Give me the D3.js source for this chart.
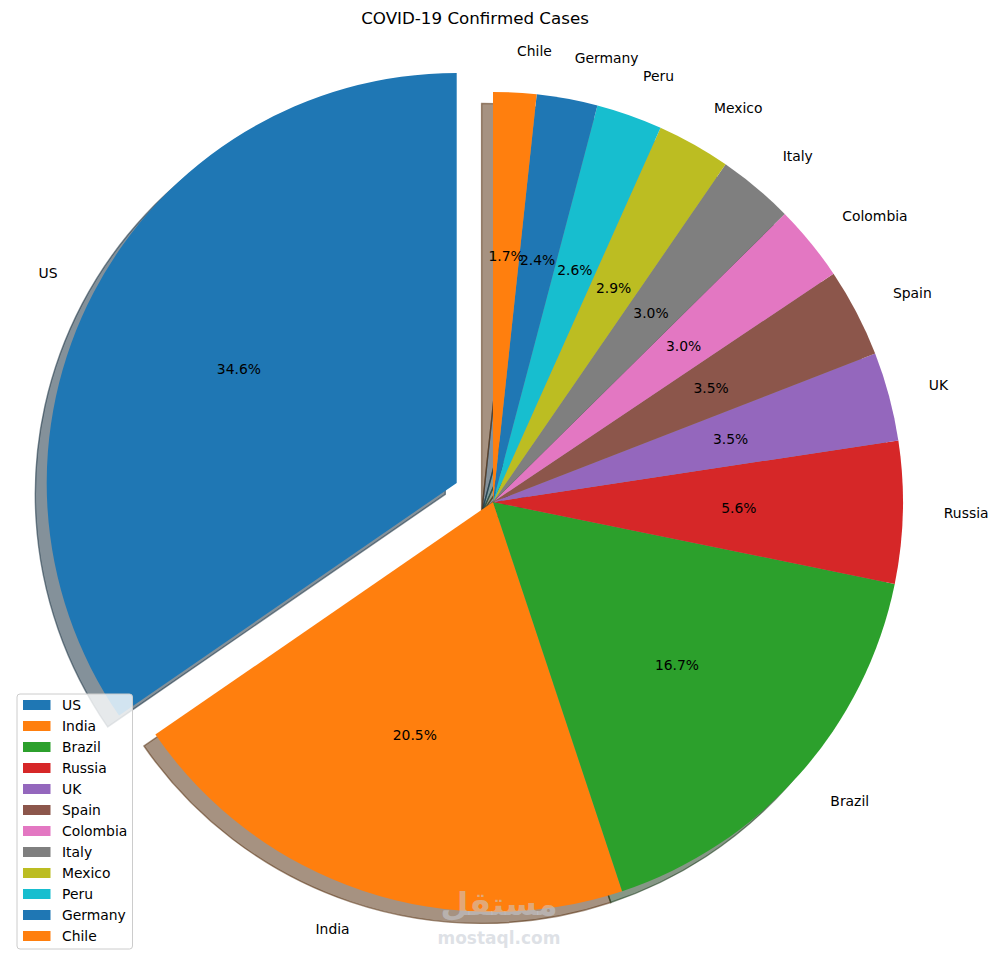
<!DOCTYPE html>
<html>
<head>
<meta charset="utf-8">
<script src="https://cdn.jsdelivr.net/npm/d3@7"></script>
<style>
  html, body { margin: 0; padding: 0; background: #ffffff; }
  svg { display: block; }
  text { font-family: "DejaVu Sans", sans-serif; }
</style>
</head>
<body>
<svg id="chart" width="999" height="966"></svg>
<script>
// ---- data ----
const countries = ["US", "India", "Brazil", "Russia", "UK", "Spain", "Colombia", "Italy", "Mexico", "Peru", "Germany", "Chile"];
const shares = [34.6, 20.5, 16.7, 5.6, 3.5, 3.5, 3.0, 3.0, 2.9, 2.6, 2.4, 1.7];
const explode = [0.1, 0, 0, 0, 0, 0, 0, 0, 0, 0, 0, 0];
const palette = ["#1f77b4", "#ff7f0e", "#2ca02c", "#d62728", "#9467bd", "#8c564b", "#e377c2", "#7f7f7f", "#bcbd22", "#17becf"];
const titleText = "COVID-19 Confirmed Cases";

const svg = d3.select("#chart");
const cx = 493, cy = 502, R = 410;
const shadowOff = 11.4;

const data = countries.map((c, i) => ({ name: c, value: shares[i], explode: explode[i], color: palette[i % palette.length] }));

const pie = d3.pie().value(d => d.value).sort(null).startAngle(0).endAngle(-2 * Math.PI);
const arcs = pie(data);
const arc = d3.arc().innerRadius(0).outerRadius(R);

arcs.forEach(a => {
  const m = (a.startAngle + a.endAngle) / 2;
  a.dx = Math.sin(m); a.dy = -Math.cos(m);
  a.ox = cx + a.data.explode * R * a.dx;
  a.oy = cy + a.data.explode * R * a.dy;
});

function shade(col) {
  const c = d3.rgb(col);
  return d3.rgb(c.r * 0.3, c.g * 0.3, c.b * 0.3).toString();
}

// shadows
const gShadow = svg.append("g");
gShadow.selectAll("path").data(arcs).join("path")
  .attr("transform", a => `translate(${a.ox - shadowOff},${a.oy + shadowOff})`)
  .attr("d", arc)
  .attr("fill", a => shade(a.data.color))
  .attr("fill-opacity", 0.5)
  .attr("stroke", a => shade(a.data.color))
  .attr("stroke-opacity", 0.5)
  .attr("stroke-width", 1.4);

// wedges
const gWedge = svg.append("g");
gWedge.selectAll("path").data(arcs).join("path")
  .attr("transform", a => `translate(${a.ox},${a.oy})`)
  .attr("d", arc)
  .attr("fill", a => a.data.color);

// labels
svg.append("g").selectAll("text").data(arcs).join("text")
  .attr("x", a => a.ox + 1.1 * R * a.dx)
  .attr("y", a => a.oy + 1.1 * R * a.dy - 0.5)
  .attr("text-anchor", a => a.dx > 0 ? "start" : "end")
  .attr("dominant-baseline", "central")
  .attr("font-size", "13.9px")
  .attr("fill", "#000")
  .text(a => a.data.name);

// percentages
const total = d3.sum(shares);
svg.append("g").selectAll("text").data(arcs).join("text")
  .attr("x", a => a.ox + 0.6 * R * a.dx)
  .attr("y", a => a.oy + 0.6 * R * a.dy)
  .attr("text-anchor", "middle")
  .attr("dominant-baseline", "central")
  .attr("font-size", "13.9px")
  .attr("fill", "#000")
  .text(a => (a.data.value / total * 100).toFixed(1) + "%");

// title
svg.append("text")
  .attr("x", 475).attr("y", 24)
  .attr("text-anchor", "middle")
  .attr("font-size", "16.7px")
  .attr("fill", "#000")
  .text(titleText);

// watermark
svg.append("text")
  .attr("x", 499).attr("y", 915)
  .attr("text-anchor", "middle")
  .attr("font-size", "32px")
  .attr("font-weight", "bold")
  .attr("fill", "#c8ced6").attr("fill-opacity", 0.55)
  .text("مستقل");
svg.append("text")
  .attr("x", 499).attr("y", 944)
  .attr("text-anchor", "middle")
  .attr("font-size", "17px")
  .attr("font-weight", "bold")
  .attr("fill", "#c8ced6").attr("fill-opacity", 0.6)
  .text("mostaql.com");

// legend
const lg = svg.append("g").attr("transform", "translate(17,694)");
lg.append("rect")
  .attr("x", 0).attr("y", 0).attr("width", 115.5).attr("height", 255)
  .attr("rx", 3).attr("ry", 3)
  .attr("fill", "#ffffff").attr("fill-opacity", 0.8)
  .attr("stroke", "#cccccc").attr("stroke-width", 1);
const rows = lg.selectAll("g.row").data(data).join("g")
  .attr("class", "row")
  .attr("transform", (d, i) => `translate(0,${11 + i * 21})`);
rows.append("rect")
  .attr("x", 6).attr("y", -5).attr("width", 27.5).attr("height", 10)
  .attr("fill", d => d.color);
rows.append("text")
  .attr("x", 45).attr("y", 0)
  .attr("dominant-baseline", "central")
  .attr("font-size", "13.9px")
  .attr("fill", "#000")
  .text(d => d.name);
</script>
</body>
</html>
